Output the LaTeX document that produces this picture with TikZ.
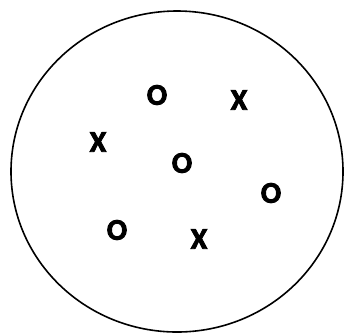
\documentclass[tikz,border=0pt]{standalone}
\usepackage{fontspec}
\setmainfont{Carlito}
\usepackage{xcolor}
\usepackage{tikz}

\begin{document}
\begin{tikzpicture}[
x=1pt,
y=-1pt,
symbol/.style={
inner sep=0pt,
scale=1.3,
transform shape,
font=\fontsize{23}{23}\selectfont\bfseries\addfontfeature{FakeBold=3}
},
region/.style={
draw=black,
line width=1.6pt
}
]

\useasboundingbox (0,0) rectangle (344,333);

\draw[region] (177,171.5) ellipse [x radius=166, y radius=160.5];

\node[symbol] (o1) at (157,95) {O};
\node[symbol] (x1) at (239,100) {X};
\node[symbol] (x2) at (98,142) {X};
\node[symbol] (o2) at (182,163) {O};
\node[symbol] (o3) at (271,193) {O};
\node[symbol] (o4) at (117,230) {O};
\node[symbol] (x3) at (199,239) {X};

\end{tikzpicture}
\end{document}
